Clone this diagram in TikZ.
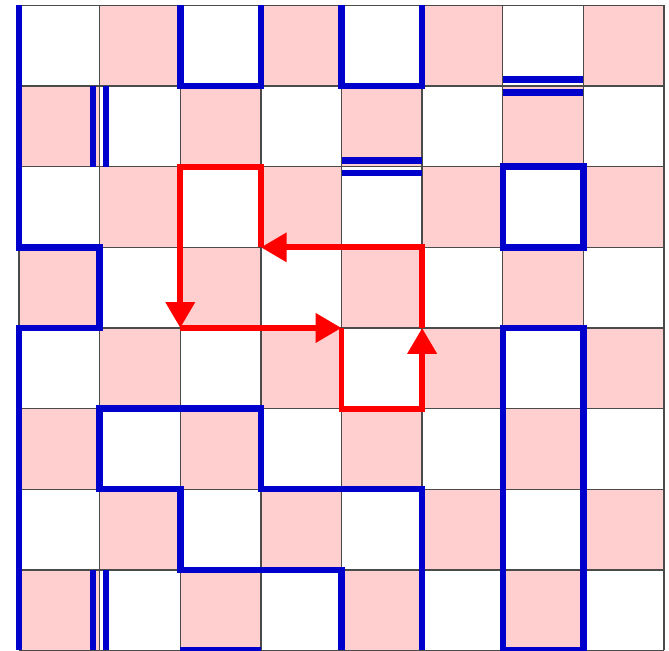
\documentclass[tikz,border=0pt]{standalone}
\usepackage{tikz}
\usetikzlibrary{arrows.meta}
\definecolor{cellpink}{HTML}{FFCFCF}
\definecolor{wall}{HTML}{0000CC}
\definecolor{gridline}{HTML}{4A4A4A}
\definecolor{route}{HTML}{FF0000}

\begin{document}
\begin{tikzpicture}[>={Triangle[length=3.2mm, width=3.5mm]},
  g/.style={draw=gridline, line width=0.5pt},
  w/.style={draw=wall, line width=2.3pt},
  r/.style={draw=route, line width=2.1pt}]
\useasboundingbox (-0.236,-0.006) rectangle (8.062,8.068);
\foreach \i in {0,...,7}
  \foreach \j in {0,...,7} {
    \pgfmathtruncatemacro{\parity}{mod(\i+\j,2)}
    \ifnum\parity=0 \fill[cellpink] (\i,\j) rectangle ++(1,1); \fi
  }
\draw[g] (0,0) grid (8,8);
\draw[w] (0,8) -- (0,5) -- (1,5) -- (1,4) -- (0,4) -- (0,0);
\draw[w] (2,8) -- (2,7) -- (3,7) -- (3,8);
\draw[w] (4,8) -- (4,7) -- (5,7) -- (5,8);
\draw[w] (6,6) rectangle (7,5);
\draw[w] (6,0) rectangle (7,4);
\draw[w] (4,0) -- (4,1) -- (2,1) -- (2,2) -- (1,2) -- (1,3) -- (3,3) -- (3,2) -- (5,2) -- (5,0);
\draw[w] (2,0) -- (3,0);
\foreach \d in {-0.08,0.08} {
  \draw[w] (6,7+\d) -- (7,7+\d);
  \draw[w] (4,6+\d) -- (5,6+\d);
  \draw[w] (1+\d,7) -- (1+\d,6);
  \draw[w] (1+\d,1) -- (1+\d,0);
}
\coordinate (p1) at (2,6);
\coordinate (p2) at (2,4);
\coordinate (p3) at (4,4);
\coordinate (p4) at (5,4);
\coordinate (p5) at (3,5);
\draw[r, ->] (p5) -- (3,6) -- (p1) -- (p2);
\draw[r, ->] (p2) -- (p3);
\draw[r, ->] (p3) -- (4,3) -- (5,3) -- (p4);
\draw[r, ->] (p4) -- (5,5) -- (p5);
\end{tikzpicture}
\end{document}
